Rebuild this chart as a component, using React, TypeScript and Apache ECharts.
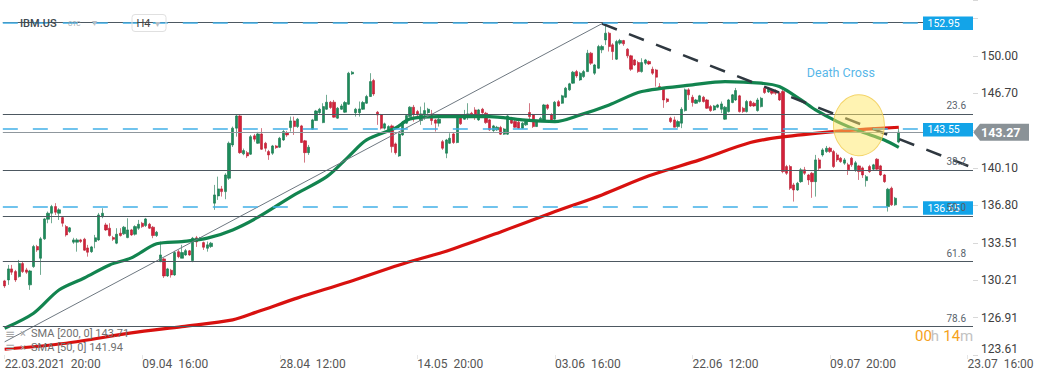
import React, { useEffect, useRef } from "react";
import * as echarts from "echarts";

// ---- axis labels ----
const xTickLabels = [
  "22.03.2021  20:00",
  "09.04  16:00",
  "28.04  12:00",
  "14.05  20:00",
  "03.06  16:00",
  "22.06  12:00",
  "09.07  20:00",
  "23.07  16:00",
];
const candlesPerTick = 38;
const slotCount = 268;
// 143.40 is hidden behind the current-price badge in the picture
const yTickLabels = ["123.61", "126.91", "130.21", "133.51", "136.80", "140.10", "", "146.70", "150.00"];
const yMin = 123.61;
const yMax = 154.94;
const yStep = 3.2985;

// ---- H4 candles: [open, close, low, high] ----
const candles = [
  [130.15,129.71,129.53,130.24],[130.24,131.21,129.80,131.56],[131.21,130.92,130.68,131.56],[130.97,130.24,130.06,131.12],[130.53,131.68,130.44,132.00],
  [131.68,130.97,130.85,131.91],[131.12,130.92,130.77,131.30],[129.80,131.03,129.36,131.12],[131.41,133.18,131.30,133.33],[133.18,132.88,132.71,133.33],
  [132.15,133.86,130.68,134.03],[133.86,135.62,133.77,135.71],[135.59,136.12,135.24,136.27],[136.12,136.71,135.24,136.86],[136.71,136.21,135.97,137.01],
  [136.12,136.42,135.53,136.56],[135.74,135.24,134.94,135.82],[134.94,134.21,134.06,135.09],[134.50,134.83,134.39,134.91],[133.57,133.77,133.42,133.95],
  [133.57,133.77,132.73,133.92],[133.77,133.62,133.50,133.86],[133.83,132.86,132.80,133.95],[133.06,132.68,132.29,133.33],[132.73,133.15,132.62,133.24],
  [133.62,133.95,133.03,134.21],[133.77,135.97,133.68,136.15],[135.82,136.12,135.68,136.56],[135.09,134.65,134.56,135.27],[134.80,134.15,134.06,135.24],
  [133.97,133.83,133.68,134.12],[133.48,134.27,133.39,134.80],[134.36,134.15,134.06,134.80],[134.30,134.89,134.21,135.00],[133.97,134.65,133.92,135.68],
  [134.65,134.21,134.12,134.74],[134.27,134.94,134.15,135.06],[134.80,135.15,134.65,135.53],[135.24,134.94,134.83,135.36],[135.03,135.62,134.91,135.71],
  [135.15,134.80,134.74,135.27],[134.89,134.15,133.92,135.00],[134.15,134.45,134.03,134.56],[131.85,132.44,131.80,133.62],[132.09,130.59,130.41,132.18],
  [130.59,131.21,130.50,131.30],[131.09,130.68,130.44,131.21],[130.68,132.65,130.59,132.80],[132.73,132.29,132.15,132.88],[132.15,132.65,132.15,133.33],
  [132.44,132.82,132.36,132.97],[132.80,132.44,132.36,132.88],[131.94,133.92,131.80,134.03],[133.95,133.59,133.15,134.12],[133.77,133.95,133.68,134.03],
  [133.53,133.12,132.88,133.62],[133.03,133.33,132.73,133.62],[133.18,133.48,133.06,133.59],[137.01,137.74,136.42,138.62],[137.65,138.27,137.30,139.35],
  [138.27,138.03,137.59,138.53],[138.03,139.50,137.36,139.65],[139.21,142.30,139.06,142.45],[142.15,143.63,141.97,143.77],[143.63,144.71,142.88,144.80],
  [144.71,141.47,141.36,144.80],[141.36,141.65,141.24,141.83],[141.47,141.18,141.00,141.62],[141.33,142.88,141.27,143.03],[142.95,142.66,142.44,143.12],
  [142.30,143.12,142.24,143.30],[143.12,141.77,141.71,143.63],[142.30,141.86,141.56,142.42],[141.56,141.27,140.83,141.71],[141.42,142.06,141.27,142.15],
  [142.06,141.91,141.80,142.15],[141.95,142.74,141.89,142.86],[142.59,143.33,142.50,143.48],[143.24,143.03,142.86,143.39],[143.68,144.27,143.33,144.65],
  [144.27,143.77,143.03,144.65],[143.77,144.42,143.65,144.53],[143.83,142.36,142.33,143.92],[142.51,141.47,140.59,142.59],[141.47,141.95,141.27,142.15],
  [143.54,144.36,143.48,144.45],[144.30,145.15,144.27,145.24],[145.00,145.30,144.89,145.42],[144.12,145.53,144.07,145.83],[145.30,145.92,145.24,146.57],
  [145.92,145.45,145.33,146.03],[145.92,144.60,144.54,146.12],[144.51,145.39,144.45,145.50],[145.30,145.59,145.24,145.77],[145.04,145.89,144.98,146.03],
  [145.74,148.48,145.68,148.60],[148.42,148.57,148.33,148.68],[145.00,145.30,144.65,145.42],[145.00,145.33,144.65,145.98],[145.30,145.89,145.24,146.03],
  [145.83,146.42,145.77,146.57],[146.42,147.74,146.39,148.48],[147.83,146.65,146.48,147.98],[145.04,144.80,143.92,145.15],[144.80,143.63,143.51,144.89],
  [143.63,144.01,143.51,144.12],[143.48,143.77,143.39,143.89],[143.83,142.00,141.47,143.95],[142.24,141.47,141.30,142.36],[141.18,143.12,141.09,143.21],
  [143.03,144.16,142.95,144.27],[144.07,144.74,144.01,144.83],[144.65,145.48,144.60,145.57],[145.48,144.89,144.21,145.68],[145.09,144.80,144.71,145.24],
  [144.30,144.89,143.92,145.53],[144.80,145.18,144.36,145.89],[145.00,145.30,144.89,145.42],[144.86,144.30,143.92,145.24],[144.36,144.07,143.33,144.45],
  [144.07,144.42,143.77,144.65],[142.44,141.86,141.71,142.59],[141.42,142.59,140.98,142.68],[142.30,142.74,142.24,143.18],[143.12,142.36,142.24,143.21],
  [142.36,144.65,142.30,144.74],[144.65,144.01,143.92,144.80],[144.42,144.80,144.36,145.24],[144.60,144.89,144.36,145.83],[144.95,144.65,144.54,145.07],
  [145.24,144.65,144.36,145.48],[144.36,145.24,144.27,145.33],[145.30,145.00,144.89,145.42],[144.95,144.12,144.01,145.07],[144.36,143.48,143.39,144.45],
  [143.42,143.83,143.30,143.92],[143.48,143.71,143.39,143.83],[143.68,143.10,143.03,143.83],[143.10,143.56,143.03,143.65],[143.10,144.71,143.03,144.80],
  [144.51,144.07,144.01,144.63],[144.21,143.71,143.65,144.36],[144.16,143.63,143.56,144.27],[143.63,144.07,143.56,144.16],[143.92,144.21,143.83,144.36],
  [145.01,144.65,144.36,145.83],[144.80,143.77,143.65,144.89],[143.77,144.21,143.74,144.36],[144.30,144.51,144.18,144.63],[144.36,145.68,144.27,145.77],
  [145.68,145.39,145.24,145.77],[144.80,144.36,144.27,144.95],[144.42,145.92,144.36,146.03],[145.97,145.59,145.51,146.12],[145.83,146.48,145.77,146.57],
  [146.36,147.16,146.30,147.27],[147.01,147.54,146.92,147.63],[147.60,148.57,147.54,148.68],[148.62,148.24,148.07,148.77],[147.89,148.48,147.80,148.60],
  [148.18,148.62,148.07,148.77],[148.62,150.25,148.60,150.54],[150.25,149.36,149.21,150.36],[148.48,149.21,148.33,149.30],[148.92,150.83,148.86,150.98],
  [150.54,150.83,150.25,150.98],[151.42,152.01,150.98,152.74],[152.01,150.83,150.39,152.13],[150.98,150.39,149.65,151.13],[149.72,151.27,149.65,151.42],
  [151.13,151.36,150.98,151.51],[151.36,151.07,150.89,151.42],[150.60,150.01,149.80,150.69],[150.01,148.83,148.68,150.10],[149.65,149.21,149.12,149.74],
  [149.42,148.62,148.51,149.57],[148.62,149.42,148.53,149.80],[149.36,149.65,149.21,149.74],[149.51,149.30,149.21,149.61],[148.83,148.48,148.33,149.06],
  [148.77,148.13,147.30,148.86],[147.30,147.07,147.01,147.60],[147.07,146.12,145.42,147.18],[146.21,145.98,145.86,146.30],[144.51,144.21,144.09,144.63],
  [144.36,143.71,143.71,144.65],[143.77,144.21,143.65,144.36],[144.07,145.30,143.63,145.48],[145.18,147.01,145.09,147.13],[147.01,146.57,146.12,147.16],
  [146.36,145.89,145.53,146.57],[145.83,146.12,145.77,146.21],[145.98,146.48,145.89,146.57],[146.36,145.98,145.89,146.48],[146.12,145.39,145.33,146.21],
  [145.53,145.18,145.07,145.68],[145.24,145.59,145.15,145.68],[145.48,145.68,145.39,145.77],[145.30,145.77,144.95,145.98],[144.42,145.48,144.36,145.59],
  [145.09,146.12,145.01,146.21],[145.89,146.57,145.83,146.65],[146.12,146.95,146.03,147.18],[146.48,145.09,145.01,146.57],[145.39,145.09,144.98,145.51],
  [145.09,145.98,145.01,146.12],[145.98,145.59,145.51,146.08],[145.83,145.59,145.51,145.95],[145.18,146.12,145.09,146.30],[145.53,146.27,145.46,146.39],
  [147.16,146.77,146.65,147.27],[146.83,147.18,146.74,147.27],[147.01,146.71,146.57,147.10],[146.95,146.71,146.57,147.05],[146.71,146.12,146.03,146.83],
  [146.86,139.80,139.65,147.01],[140.24,139.65,139.50,140.39],[140.24,138.33,138.18,140.39],[138.62,138.18,137.15,138.80],[138.18,138.77,138.09,138.89],
  [138.91,139.95,138.80,140.12],[139.95,139.65,139.50,140.21],[139.50,139.06,138.62,139.59],[139.65,138.91,137.48,139.77],[138.91,140.83,137.59,141.27],
  [140.83,140.10,139.95,141.00],[141.27,141.71,141.12,141.86],[141.56,141.86,141.45,142.06],[141.86,141.56,141.45,141.98],[141.56,140.24,140.12,141.71],
  [141.27,140.83,140.65,141.45],[140.98,140.68,140.57,141.09],[140.54,140.83,140.39,141.00],[140.39,139.95,139.50,140.57],[140.98,140.39,140.21,141.09],
  [139.95,140.57,139.77,140.74],[140.30,139.80,139.06,140.39],[140.12,139.50,139.24,140.24],[139.00,139.35,138.47,139.50],[140.24,139.80,139.68,140.39],
  [140.01,140.39,139.86,140.48],[140.89,140.01,139.95,140.98],[140.30,139.50,139.41,140.39],[139.50,138.91,138.80,139.59],[136.71,138.24,136.27,138.36],
  [138.33,136.86,136.77,138.47],[136.86,137.45,136.77,137.56],[142.40,143.27,142.30,143.60],
];

// ---- moving averages: [candle index, value] ----
const sma50 = [
  [0,125.97],[8,127.30],[15,129.35],[22,130.41],[29,131.56],[35,132.18],[42,133.42],[49,133.62],[56,133.92],
  [63,134.65],[70,135.77],[80,137.74],[89,139.35],[95,141.12],[100,142.59],[108,143.65],[112,144.45],[120,144.65],
  [134,144.65],[143,144.36],[152,144.21],[159,144.80],[167,145.68],[176,146.86],[190,147.45],[199,147.74],
  [209,147.60],[214,147.30],[220,146.12],[224,145.24],[230,144.21],[236,143.39],[243,142.59],[247,141.94],
];
const sma200 = [
  [0,124.12],[17,124.65],[35,125.56],[49,126.12],[63,126.71],[70,127.44],[81,128.65],[95,130.06],[109,131.56],
  [123,132.88],[137,134.47],[151,136.15],[165,137.74],[178,139.42],[192,140.83],[206,142.36],[215,142.86],
  [229,143.33],[238,143.54],[247,143.71],
];
const smaLegend = [
  { name: "SMA [200, 0]", value: "143.71" },
  { name: "SMA [50, 0]", value: "141.94" },
];

// ---- drawn levels ----
const fibLevels = [152.95, 144.89, 139.91, 135.88, 131.85, 126.12];
const fibNames = ["", "23.6", "38.2", "50.0", "61.8", "78.6"];
const keyLevels = [152.95, 143.55, 136.65];
const lastPrice = 143.27;
const riseLine = [[0, 124.77], [165, 152.85]];
const fallLine = [[165, 152.85], [267, 140.19]];
const crossMark = [[236, 143.89]];
const crossLabel = [[231, 148.51]];

const FONT = "Roboto, 'Noto Sans', sans-serif";
const GRID_RIGHT_X = 973;

export default function App() {
  const ref = useRef<HTMLDivElement>(null);

  useEffect(() => {
    document.body.style.margin = "0";
    const chart = echarts.init(ref.current!, null, { renderer: "svg" });
    const categories = Array.from({ length: slotCount }, (_, i) => String(i));
    const isTick = (i: number) => i % candlesPerTick === 0;

    const option: any = {
      animation: false,
      textStyle: { fontFamily: FONT },
      grid: { left: 2.82, right: 68, top: 0, bottom: 25 },
      xAxis: {
        type: "category",
        data: categories,
        boundaryGap: true,
        axisLine: { show: false },
        splitLine: { show: false },
        axisTick: {
          show: true,
          alignWithLabel: true,
          interval: (i: number) => isTick(i),
          length: 4,
          lineStyle: { color: "#e6e6e6" },
        },
        axisLabel: {
          interval: (i: number) => isTick(i),
          formatter: (v: string) => {
            const n = Number(v);
            return n % candlesPerTick === 0 ? xTickLabels[n / candlesPerTick] || "" : "";
          },
          align: "left",
          margin: 3,
          fontSize: 12,
          color: "#555",
          fontFamily: FONT,
        },
      },
      yAxis: {
        type: "value",
        position: "right",
        min: yMin,
        max: yMax,
        interval: yStep,
        scale: true,
        axisLine: { show: false },
        splitLine: { show: false },
        axisTick: { show: true, length: 5, lineStyle: { color: "#d8d8d8" } },
        axisLabel: {
          formatter: (v: number) => {
            const k = Math.round((v - yMin) / yStep);
            return yTickLabels[k] || "";
          },
          margin: 8,
          fontSize: 12,
          color: "#404040",
          fontFamily: FONT,
          verticalAlignMinLabel: "bottom",
        },
      },
      series: [
        {
          type: "candlestick",
          data: candles,
          barWidth: 2.7,
          itemStyle: {
            color: "#1c8c5b",
            color0: "#d4213a",
            borderColor: "#137249",
            borderColor0: "#b51b2f",
            borderWidth: 0.6,
          },
          markLine: {
            silent: true,
            symbol: ["none", "none"],
            label: { show: false },
            animation: false,
            data: [
              ...fibLevels.map((v) => ({ yAxis: v, lineStyle: { color: "#4d5861", width: 1.2, type: "solid" } })),
              { yAxis: lastPrice, lineStyle: { color: "#8f979d", width: 1, type: "solid" } },
              ...keyLevels.map((v) => ({ yAxis: v, lineStyle: { color: "#42b0e8", width: 1.6, type: [15, 15] } })),
            ],
          },
        },
        {
          type: "line",
          data: sma200,
          symbol: "none",
          smooth: 0.3,
          silent: true,
          lineStyle: { color: "#d8110f", width: 3.2 },
        },
        {
          type: "line",
          data: sma50,
          symbol: "none",
          smooth: 0.3,
          silent: true,
          lineStyle: { color: "#12844f", width: 3.2 },
        },
        {
          type: "line",
          data: riseLine,
          symbol: "none",
          silent: true,
          lineStyle: { color: "#6e7881", width: 1 },
        },
        {
          type: "line",
          data: fallLine,
          symbol: "none",
          silent: true,
          lineStyle: { color: "#2f3840", width: 2.5, type: [16, 13] },
        },
        {
          type: "scatter",
          data: crossMark,
          symbol: "circle",
          symbolSize: [51, 61],
          silent: true,
          z: 10,
          itemStyle: { color: "rgba(254, 231, 100, 0.62)", borderColor: "#f0cb4e", borderWidth: 1 },
        },
        {
          type: "scatter",
          data: crossLabel,
          symbolSize: 0,
          silent: true,
          z: 11,
          label: {
            show: true,
            position: "inside",
            formatter: "Death Cross",
            color: "#2aa3e2",
            fontSize: 12.5,
            fontFamily: FONT,
          },
        },
      ],
    };
    chart.setOption(option);

    const py = (v: number) => chart.convertToPixel({ yAxisIndex: 0 }, v) as number;
    const g: any[] = [];

    // blue level boxes
    keyLevels.forEach((v) => {
      const y = py(v);
      g.push({
        type: "rect",
        z: 100,
        silent: true,
        shape: { x: GRID_RIGHT_X - 50, y: y - 6, width: 50, height: 13.5 },
        style: { fill: "#13a4e8" },
      });
      g.push({
        type: "text",
        z: 101,
        silent: true,
        x: GRID_RIGHT_X - 45.5,
        y: y + 0.8,
        style: { text: v.toFixed(2), fill: "#ffffff", font: `10.5px ${FONT}`, textVerticalAlign: "middle" },
      });
    });

    // fib names
    fibLevels.forEach((v, i) => {
      if (!fibNames[i]) return;
      g.push({
        type: "text",
        z: 102,
        silent: true,
        x: GRID_RIGHT_X - 7,
        y: py(v) - 8.5,
        style: { text: fibNames[i], fill: "#59636c", font: `10px ${FONT}`, textAlign: "right", textVerticalAlign: "middle" },
      });
    });

    // current price badge
    const yp = py(lastPrice);
    g.push({
      type: "polygon",
      z: 100,
      silent: true,
      shape: {
        points: [
          [GRID_RIGHT_X + 0.3, yp],
          [GRID_RIGHT_X + 7, yp - 8.5],
          [1029, yp - 8.5],
          [1029, yp + 8.5],
          [GRID_RIGHT_X + 7, yp + 8.5],
        ],
      },
      style: { fill: "#8a9297" },
    });
    g.push({
      type: "text",
      z: 101,
      silent: true,
      x: 981,
      y: yp + 0.5,
      style: { text: lastPrice.toFixed(2), fill: "#ffffff", font: `bold 12.5px ${FONT}`, textVerticalAlign: "middle" },
    });

    // header
    g.push({ type: "text", z: 100, silent: true, x: 20, y: 23, style: { text: "IBM.US", fill: "#3f4950", font: `500 11px ${FONT}`, textVerticalAlign: "middle" } });
    g.push({ type: "text", z: 100, silent: true, x: 68, y: 24, style: { text: "OTC", fill: "#a0a8ae", font: `6.5px ${FONT}`, textVerticalAlign: "middle" } });
    g.push({ type: "text", z: 100, silent: true, x: 92, y: 22, style: { text: "▾", fill: "#b8bec3", font: `10px ${FONT}`, textVerticalAlign: "middle" } });
    g.push({
      type: "rect",
      z: 100,
      silent: true,
      shape: { x: 132, y: 14.5, width: 34, height: 17, r: 3 },
      style: { fill: "none", stroke: "#e0e0e0", lineWidth: 1 },
    });
    g.push({ type: "text", z: 100, silent: true, x: 136.5, y: 23.5, style: { text: "H4", fill: "#454545", font: `11px ${FONT}`, textVerticalAlign: "middle" } });
    g.push({ type: "text", z: 100, silent: true, x: 155, y: 23, style: { text: "▾", fill: "#b8bec3", font: `10px ${FONT}`, textVerticalAlign: "middle" } });

    // SMA legend
    smaLegend.forEach((s, i) => {
      const y = 333.7 + i * 13.6;
      g.push({ type: "text", z: 100, silent: true, x: 5, y, style: { text: "≡", fill: "#a5a5a5", font: `12px 'DejaVu Sans'`, textVerticalAlign: "middle" } });
      g.push({ type: "text", z: 100, silent: true, x: 20, y, style: { text: "×", fill: "#a5a5a5", font: `11px ${FONT}`, textVerticalAlign: "middle" } });
      g.push({
        type: "text",
        z: 100,
        silent: true,
        x: 31,
        y,
        style: { text: `${s.name} ${s.value}`, fill: "#707070", font: `11px ${FONT}`, textVerticalAlign: "middle" },
      });
    });

    // countdown
    const cd = [
      { t: "00", x: 915, c: "#f5a21c" },
      { t: "h", x: 930.7, c: "#c2c2c2" },
      { t: "14", x: 943.3, c: "#f5a21c" },
      { t: "m", x: 960, c: "#c2c2c2" },
    ];
    cd.forEach((p) =>
      g.push({ type: "text", z: 100, silent: true, x: p.x, y: 335.5, style: { text: p.t, fill: p.c, font: `15px ${FONT}`, textVerticalAlign: "middle" } })
    );

    chart.setOption({ graphic: g });
    return () => chart.dispose();
  }, []);

  return <div ref={ref} style={{ width: 1041, height: 380 }} />;
}
